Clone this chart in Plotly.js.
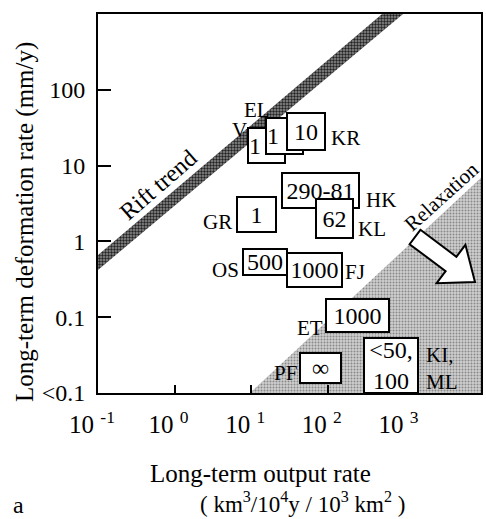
<!DOCTYPE html>
<html>
<head>
<meta charset="utf-8">
<script src="https://cdn.plot.ly/plotly-3.0.1.min.js"></script>
<style>html,body{margin:0;padding:0;background:#fff;}#chart{width:486px;height:519px;}</style>
</head>
<body>
<div id="chart"></div>
<script>
// ---- data ----
const sites      = ['V', 'EL', 'KR', 'GR', 'HK', 'KL', 'OS', 'FJ', 'ET', 'PF', 'KI,<br>ML'];
const outputRate = [15.9, 27.6, 51.9, 11.7, 81.5, 124, 15.1, 67, 244, 81.5, 668];
const deformRate = [18.3, 24.6, 28.2, 2.26, 4.67, 2.0, 0.534, 0.42, 0.105, 0.0214, 0.023];
const boxText    = ['1', '1', '10', '1', '290-81', '62', '500', '1000', '1000', '∞', '<50,<br>100'];

const riftX  = [0.1, 511, 960, 0.1];
const riftY  = [0.662, 1000, 1000, 0.42];
const relaxX = [9.6, 10000, 10000];
const relaxY = [0.01, 0.01, 6.9];

const xTickVals = [0.1, 1, 10, 100, 1000, 10000];
const xTickExp  = ['-1', '0', '1', '2', '3', '4'];
const yTickVals = [0.01, 0.1, 1, 10, 100];
const yTickText = ['<0.1', '0.1', '1', '10', '100'];

// ---- styles (sizes/offsets, px) ----
const boxSize = [[37,35],[37,36],[38,37],[39,35],[77,35],[37,39],[44,26],[55,34],[63,33],[41,30],[54,55]];
const boxAlign = ['left','left','center','center','center','center','center','center','center','center','center'];
const labelOff = [[-27,-16],[-28,-26],[40,7],[-38.5,7],[60,9],[37.5,10],[-39.5,8],[40.5,2.5],[-47.5,12],[-35.5,5.5],[51,3]];

const FONT = '"Liberation Serif", "Times New Roman", "DejaVu Serif", serif';
const L = 98, R = 481, T = 14, B = 393;
const W = R - L, H = B - T;
const px = (x, y) => [(x - L) / W, (B - y) / H];

const annotations = [];
sites.forEach((s, i) => {
  const ax = Math.log10(outputRate[i]), ay = Math.log10(deformRate[i]);
  annotations.push({
    x: ax, y: ay, xref: 'x', yref: 'y', showarrow: false,
    text: boxText[i], font: {family: FONT, size: 24, color: '#000'},
    bgcolor: '#fff', bordercolor: '#000', borderwidth: 2, borderpad: 0,
    width: boxSize[i][0] - 2, height: boxSize[i][1] - 2, align: boxAlign[i],
    xanchor: 'center', yanchor: 'middle'
  });
  annotations.push({
    x: ax, y: ay, xref: 'x', yref: 'y', showarrow: false,
    text: s, font: {family: FONT, size: 21, color: '#000'}, align: 'left',
    xshift: labelOff[i][0], yshift: -labelOff[i][1],
    xanchor: 'center', yanchor: 'middle'
  });
});

function paperAnn(pxx, pxy, text, size, angle, extra) {
  const p = px(pxx, pxy);
  return Object.assign({x: p[0], y: p[1], xref: 'paper', yref: 'paper', showarrow: false,
    text: text, font: {family: FONT, size: size, color: '#000'}, textangle: angle || 0,
    xanchor: 'center', yanchor: 'middle'}, extra || {});
}
const sup = t => '<sup>' + t + '</sup>';
annotations.push(paperAnn(158, 185, 'Rift trend', 24, -41));
annotations.push(paperAnn(441, 197, 'Relaxation', 21, -42));
annotations.push(paperAnn(25, 222, 'Long-term deformation rate (mm/y)', 25, -90));
annotations.push(paperAnn(260, 473, 'Long-term output rate', 25, 0));
annotations.push(paperAnn(302, 503, '( km' + sup('3') + '/10' + sup('4') + 'y / 10' + sup('3') + ' km' + sup('2') + ' )', 23, 0));
annotations.push(paperAnn(18, 505, 'a', 24, 0));

// block arrow (decoration)
const arrowPts = [[420.4,229.8],[456.4,256.8],[465.4,244.8],[475,282],[436.6,283.2],[445.6,271.2],[409.6,244.2]];
const arrowPath = arrowPts.map((p, i) => { const q = px(p[0], p[1]); return (i ? 'L' : 'M') + q[0].toFixed(4) + ',' + q[1].toFixed(4); }).join(' ') + ' Z';

const traces = [
  {x: relaxX, y: relaxY, mode: 'lines', fill: 'toself', line: {width: 0, color: 'rgba(0,0,0,0)'},
   fillcolor: '#c6c6c6', fillpattern: {shape: '.', bgcolor: '#d0d0d0', fgcolor: '#888', size: 3, solidity: 0.35},
   hoverinfo: 'skip', showlegend: false},
  {x: riftX, y: riftY, mode: 'lines', fill: 'toself', line: {width: 0, color: 'rgba(0,0,0,0)'},
   fillcolor: '#6a6a6a', fillpattern: {shape: '.', bgcolor: '#909090', fgcolor: '#222', size: 3, solidity: 0.5},
   hoverinfo: 'skip', showlegend: false}
];

const layout = {
  width: 486, height: 519,
  margin: {l: L, r: 486 - R, t: T, b: 519 - B, pad: 0},
  paper_bgcolor: '#fff', plot_bgcolor: '#fff',
  showlegend: false,
  font: {family: FONT, size: 24, color: '#000'},
  xaxis: {
    type: 'log', range: [-1, 4], showgrid: false, zeroline: false,
    showline: true, mirror: true, linecolor: '#000', linewidth: 2,
    ticks: 'inside', ticklen: 8, tickwidth: 2, tickcolor: '#000',
    tickmode: 'array', tickvals: xTickVals,
    ticktext: xTickExp.map(e => '10 ' + sup(e)),
    tickfont: {family: FONT, size: 25, color: '#000'},
    ticklabelstandoff: 8, ticklabelshift: -6
  },
  yaxis: {
    type: 'log', range: [-2, 3], showgrid: false, zeroline: false,
    showline: true, mirror: true, linecolor: '#000', linewidth: 2,
    ticks: 'inside', ticklen: 13, tickwidth: 2, tickcolor: '#000',
    tickmode: 'array', tickvals: yTickVals, ticktext: yTickText,
    tickfont: {family: FONT, size: 24, color: '#000'},
    ticklabelstandoff: 6
  },
  annotations: annotations,
  shapes: [{type: 'path', xref: 'paper', yref: 'paper', path: arrowPath,
            fillcolor: '#fff', line: {color: '#000', width: 2}, layer: 'above'}]
};

Plotly.newPlot('chart', traces, layout, {displayModeBar: false, staticPlot: true});
</script>
</body>
</html>
